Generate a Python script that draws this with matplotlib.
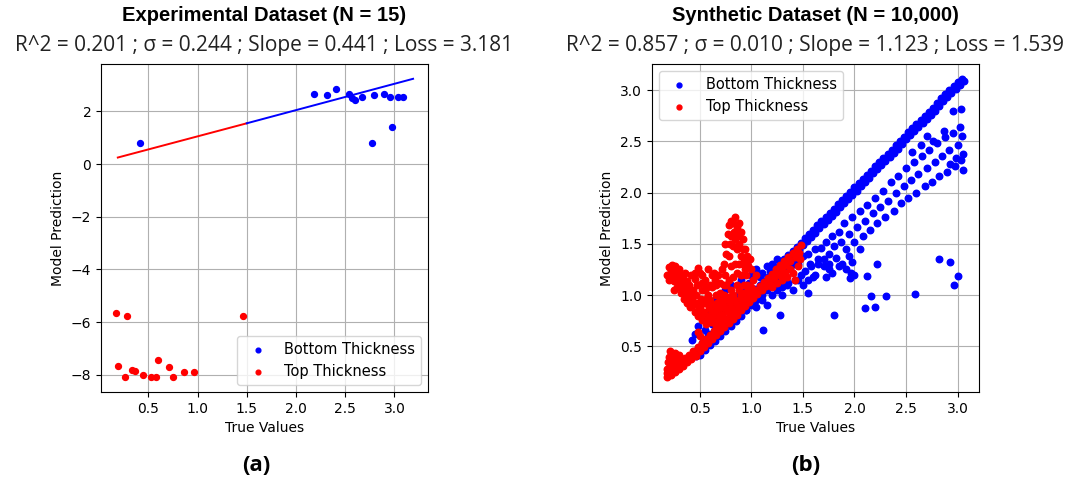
import numpy as np
import matplotlib.pyplot as plt

# ---- (a) experimental dataset ----
exp_bottom_true = [0.42, 2.18, 2.32, 2.41, 2.54, 2.57, 2.60, 2.67, 2.79, 2.77, 2.89, 2.96, 2.98, 3.04, 3.09]
exp_bottom_pred = [0.82, 2.67, 2.62, 2.85, 2.67, 2.52, 2.42, 2.56, 2.62, 0.82, 2.67, 2.56, 1.40, 2.56, 2.56]
exp_top_true = [0.17, 0.28, 1.46, 0.19, 0.26, 0.33, 0.36, 0.45, 0.53, 0.58, 0.60, 0.71, 0.75, 0.86, 0.96]
exp_top_pred = [-5.64, -5.77, -5.77, -7.67, -8.09, -7.81, -7.87, -8.00, -8.09, -8.09, -7.43, -7.72, -8.09, -7.90, -7.90]
fit_top_x = [0.19, 1.50]
fit_top_y = [0.25, 1.55]
fit_bottom_x = [1.50, 3.19]
fit_bottom_y = [1.55, 3.24]

# ---- (b) synthetic dataset, points read off the dense clouds ----
syn_bottom_true = [
    # main diagonal band
    0.46, 0.48, 0.50, 0.52, 0.54, 0.56, 0.58, 0.60, 0.62, 0.64, 0.66, 0.68, 0.70, 0.72, 0.74, 0.76,
    0.78, 0.80, 0.82, 0.84, 0.86, 0.88, 0.90, 0.92, 0.94, 0.96, 0.98, 1.00, 1.02, 1.04, 1.06, 1.08,
    1.10, 1.12, 1.14, 1.16, 1.18, 1.20, 1.22, 1.24, 1.26, 1.28, 1.30, 1.32, 1.34, 1.36, 1.38, 1.40,
    1.42, 1.44, 1.46, 1.48, 1.50, 1.52, 1.54, 1.56, 1.58, 1.60, 1.62, 1.64, 1.66, 1.68, 1.70, 1.72,
    1.74, 1.76, 1.78, 1.80, 1.82, 1.84, 1.86, 1.88, 1.90, 1.92, 1.94, 1.96, 1.98, 2.00, 2.02, 2.04,
    2.06, 2.08, 2.10, 2.12, 2.14, 2.16, 2.18, 2.20, 2.22, 2.24, 2.26, 2.28, 2.30, 2.32, 2.34, 2.36,
    2.38, 2.40, 2.42, 2.44, 2.46, 2.48, 2.50, 2.52, 2.54, 2.56, 2.58, 2.60, 2.62, 2.64, 2.66, 2.68,
    2.70, 2.72, 2.74, 2.76, 2.78, 2.80, 2.82, 2.84, 2.86, 2.88, 2.90, 2.92, 2.94, 2.96, 2.98, 3.00,
    3.02, 3.04, 3.06,
    # lower fan
    1.30, 1.33, 1.36, 1.38, 1.42, 1.45, 1.48, 1.50, 1.52, 1.55, 1.57, 1.60, 1.62, 1.65, 1.68, 1.70,
    1.72, 1.75, 1.78, 1.80, 1.82, 1.85, 1.87, 1.90, 1.92, 1.95, 1.98, 2.00, 2.02, 2.05, 2.08, 2.10,
    2.12, 2.15, 2.18, 2.20, 2.22, 2.25, 2.28, 2.30, 2.32, 2.35, 2.38, 2.40, 2.42, 2.45, 2.48, 2.50,
    2.52, 2.55, 2.58, 2.60, 2.62, 2.65, 2.68, 2.70, 2.72, 2.75, 2.78, 2.80, 2.82, 2.85, 2.88, 2.90,
    2.92, 2.95, 2.97, 3.00, 3.02, 3.03, 3.05, 3.05, 3.04, 2.98, 2.93, 2.87, 2.76, 2.64, 2.56, 1.88,
    1.95, 2.05, 1.75, 1.55, 2.95, 2.70, 3.03,
    # scatter above the red cloud
    0.45, 0.43, 0.48, 0.52, 0.55, 0.60, 0.65, 0.70, 0.75, 0.80, 0.85, 0.90, 0.95, 1.00, 1.05, 1.10,
    1.15, 1.20, 1.25, 1.05, 1.10, 1.15, 1.20, 1.25, 1.30, 1.35, 1.40, 1.45, 1.50, 1.55, 1.58, 1.62,
    1.65, 1.70, 1.72, 1.75, 1.78, 1.85, 1.92, 2.00, 1.98, 0.95, 0.85,
    # just under / inside the red band
    0.50, 0.55, 0.60, 0.65, 0.70, 0.75, 0.80, 0.85, 0.90, 0.95, 1.00, 1.05, 1.10, 1.15, 1.20, 1.25,
    1.30, 1.35, 1.40, 1.45, 0.58, 0.62, 0.68, 0.72, 0.78, 0.88, 0.98, 1.08, 1.18, 1.28,
    # outliers
    1.80, 1.11, 1.28, 1.97, 1.96, 2.12, 2.22, 2.16, 2.31, 2.10, 2.20, 2.59, 2.82, 2.93, 3.00, 2.96,
]
syn_bottom_pred = [
    0.41, 0.48, 0.46, 0.53, 0.50, 0.57, 0.54, 0.61, 0.58, 0.65, 0.62, 0.69, 0.66, 0.73, 0.70, 0.77,
    0.74, 0.81, 0.78, 0.86, 0.83, 0.90, 0.87, 0.94, 0.91, 0.98, 0.95, 1.02, 0.99, 1.06, 1.03, 1.10,
    1.07, 1.14, 1.11, 1.18, 1.16, 1.23, 1.20, 1.27, 1.24, 1.31, 1.28, 1.35, 1.32, 1.39, 1.36, 1.43,
    1.40, 1.47, 1.44, 1.51, 1.49, 1.56, 1.53, 1.60, 1.57, 1.64, 1.61, 1.68, 1.65, 1.72, 1.69, 1.76,
    1.73, 1.80, 1.77, 1.84, 1.81, 1.89, 1.86, 1.93, 1.90, 1.97, 1.94, 2.01, 1.98, 2.05, 2.02, 2.09,
    2.06, 2.13, 2.10, 2.17, 2.14, 2.21, 2.19, 2.26, 2.23, 2.30, 2.27, 2.34, 2.31, 2.38, 2.35, 2.42,
    2.39, 2.46, 2.43, 2.50, 2.47, 2.54, 2.52, 2.59, 2.56, 2.63, 2.60, 2.67, 2.64, 2.71, 2.68, 2.75,
    2.72, 2.79, 2.76, 2.83, 2.80, 2.87, 2.84, 2.92, 2.89, 2.96, 2.93, 3.00, 2.97, 3.04, 3.01, 3.08,
    3.05, 3.11, 3.09,
    1.08, 1.20, 1.12, 1.26, 1.15, 1.30, 1.20, 1.38, 1.24, 1.40, 1.30, 1.18, 1.45, 1.35, 1.46, 1.28,
    1.52, 1.40, 1.58, 1.48, 1.36, 1.62, 1.52, 1.70, 1.45, 1.60, 1.76, 1.52, 1.66, 1.82, 1.58, 1.72,
    1.88, 1.64, 1.80, 1.95, 1.70, 1.86, 2.02, 1.76, 1.92, 2.10, 1.82, 2.00, 2.16, 1.90, 2.06, 2.24,
    1.95, 2.12, 2.30, 2.00, 2.18, 2.36, 2.06, 2.24, 2.42, 2.10, 2.30, 2.48, 2.16, 2.36, 2.54, 2.20,
    2.42, 2.58, 2.26, 2.46, 2.64, 2.32, 2.22, 2.38, 2.55, 2.34, 2.28, 2.60, 2.50, 2.46, 2.40, 1.30,
    1.38, 1.45, 1.25, 1.15, 2.80, 2.55, 2.82,
    0.62, 0.56, 0.70, 0.78, 0.66, 0.85, 0.95, 1.00, 1.05, 1.10, 0.98, 1.15, 1.05, 1.20, 1.25, 1.22,
    1.28, 1.30, 1.35, 0.88, 0.95, 0.90, 1.00, 1.05, 1.00, 1.10, 1.05, 1.15, 1.10, 1.02, 1.28, 1.20,
    1.30, 1.35, 1.18, 1.30, 1.22, 1.28, 1.25, 1.20, 1.32, 0.85, 0.80,
    0.42, 0.46, 0.51, 0.55, 0.60, 0.65, 0.70, 0.75, 0.80, 0.85, 0.90, 0.95, 1.00, 1.05, 1.10, 1.15,
    1.20, 1.25, 1.30, 1.35, 0.62, 0.72, 0.80, 0.86, 0.92, 1.02, 1.12, 1.18, 1.24, 1.32,
    0.81, 0.66, 0.81, 1.22, 1.17, 1.19, 1.30, 0.99, 0.99, 0.87, 0.88, 1.01, 1.35, 1.32, 1.19, 1.10,
]

syn_top_true = [
    # main band
    0.18, 0.20, 0.22, 0.24, 0.26, 0.28, 0.30, 0.32, 0.34, 0.36, 0.38, 0.40, 0.42, 0.44, 0.46, 0.48,
    0.50, 0.52, 0.54, 0.56, 0.58, 0.60, 0.62, 0.64, 0.66, 0.68, 0.70, 0.72, 0.74, 0.76, 0.78, 0.80,
    0.82, 0.84, 0.86, 0.88, 0.90, 0.92, 0.94, 0.96, 0.98, 1.00, 1.02, 1.04, 1.06, 1.08, 1.10, 1.12,
    1.14, 1.16, 1.18, 1.20, 1.22, 1.24, 1.26, 1.28, 1.30, 1.32, 1.34, 1.36, 1.38, 1.40, 1.42, 1.44,
    1.46, 1.48,
    # wedge under the upper end
    1.20, 1.25, 1.30, 1.35, 1.40, 1.45, 1.42, 1.47, 1.38, 1.33, 1.28, 1.45,
    # blob at the lower left
    0.18, 0.19, 0.20, 0.22, 0.24, 0.26, 0.28, 0.18, 0.21, 0.30, 0.33,
    # left arm of the V
    0.18, 0.20, 0.23, 0.22, 0.25, 0.27, 0.28, 0.30, 0.32, 0.33, 0.35, 0.36, 0.38, 0.40, 0.41, 0.43,
    0.45, 0.46, 0.48, 0.50, 0.52, 0.54, 0.56, 0.58,
    # cloud inside the V
    0.34, 0.38, 0.42, 0.45, 0.48, 0.50, 0.47, 0.52, 0.55, 0.58, 0.60, 0.62, 0.64, 0.66, 0.68, 0.70,
    0.72, 0.74, 0.56, 0.60, 0.62, 0.65, 0.68, 0.53, 0.44, 0.40, 0.30, 0.76, 0.78, 0.80, 0.82, 0.85,
    0.88, 0.90, 0.93, 0.96, 0.98, 1.00, 0.62, 0.65, 0.58, 0.70, 0.72, 0.68, 1.02, 1.05, 0.48, 0.50,
    0.20, 0.22, 0.24, 0.26, 0.25, 0.28, 0.30, 0.32, 0.34, 0.36, 0.37, 0.39, 0.40, 0.42, 0.44, 0.46,
    0.49, 0.51, 0.53, 0.55, 0.57, 0.59, 0.61, 0.63, 0.66, 0.67, 0.69, 0.71, 0.73, 0.75, 0.77, 0.79,
    0.81, 0.83, 0.87, 0.91, 0.95, 0.97, 0.45, 0.52, 0.55, 0.60, 0.64, 0.66, 0.74, 0.70, 0.52, 0.57,
    # spike
    0.74, 0.76, 0.75, 0.74, 0.76, 0.75, 0.77, 0.78, 0.80, 0.82, 0.84, 0.86, 0.88, 0.90, 0.92, 0.94,
    0.96, 0.97, 0.95, 0.93, 0.90, 0.80, 0.82, 0.84, 0.86, 0.88, 0.90, 0.92, 0.78, 0.80, 0.82, 0.84,
    0.86, 0.88, 0.90, 0.79, 0.83, 0.87, 0.94, 0.78, 0.80, 0.86, 0.92, 0.77, 0.99, 1.00, 0.96, 0.93,
]
syn_top_pred = [
    0.20, 0.27, 0.22, 0.30, 0.25, 0.33, 0.28, 0.36, 0.31, 0.39, 0.35, 0.42, 0.38, 0.45, 0.41, 0.49,
    0.45, 0.53, 0.49, 0.57, 0.53, 0.61, 0.57, 0.65, 0.61, 0.69, 0.65, 0.73, 0.69, 0.77, 0.73, 0.81,
    0.77, 0.85, 0.81, 0.89, 0.85, 0.93, 0.89, 0.97, 0.93, 1.01, 0.97, 1.05, 1.01, 1.09, 1.05, 1.13,
    1.09, 1.17, 1.13, 1.21, 1.17, 1.25, 1.21, 1.29, 1.25, 1.33, 1.29, 1.37, 1.33, 1.41, 1.37, 1.45,
    1.41, 1.49,
    1.08, 1.12, 1.15, 1.18, 1.22, 1.28, 1.15, 1.35, 1.25, 1.22, 1.20, 1.40,
    0.28, 0.35, 0.40, 0.32, 0.38, 0.44, 0.40, 0.24, 0.45, 0.42, 0.38,
    1.20, 1.27, 1.29, 1.18, 1.14, 1.22, 1.08, 1.15, 1.02, 1.10, 0.96, 1.05, 0.92, 1.00, 0.88, 0.95,
    0.84, 0.92, 0.80, 0.88, 0.76, 0.84, 0.72, 0.80,
    1.19, 1.14, 1.20, 1.16, 1.26, 1.22, 1.10, 1.12, 1.05, 1.00, 0.95, 1.08, 0.90, 1.00, 0.86, 0.95,
    0.82, 0.90, 0.96, 0.86, 0.78, 0.82, 0.76, 0.93, 1.05, 1.10, 1.25, 0.86, 0.95, 0.88, 1.00, 0.92,
    1.05, 0.96, 1.02, 1.10, 1.00, 1.08, 1.20, 1.15, 1.25, 1.12, 1.25, 1.20, 1.15, 1.20, 0.64, 0.60,
    1.15, 1.24, 1.20, 1.28, 1.05, 1.18, 1.08, 1.20, 1.12, 1.22, 0.98, 1.08, 0.94, 1.04, 0.90, 1.00,
    0.86, 0.96, 0.82, 0.92, 0.78, 0.88, 0.74, 0.84, 0.70, 0.92, 0.80, 0.88, 0.78, 0.96, 0.84, 0.92,
    0.82, 0.96, 0.88, 0.92, 0.96, 1.05, 1.22, 1.20, 1.15, 1.10, 1.22, 1.10, 1.10, 1.02, 1.05, 1.08,
    1.00, 1.10, 1.20, 1.30, 1.40, 1.50, 1.60, 1.68, 1.72, 1.70, 1.76, 1.66, 1.70, 1.62, 1.55, 1.45,
    1.38, 1.28, 1.20, 1.10, 1.00, 1.58, 1.48, 1.55, 1.45, 1.50, 1.38, 1.30, 1.38, 1.28, 1.18, 1.30,
    1.22, 1.30, 1.20, 1.50, 1.62, 1.58, 1.25, 1.15, 1.05, 1.10, 1.45, 0.98, 1.35, 1.25, 1.30, 1.35,
]

titles = ['Experimental Dataset (N = 15)', 'Synthetic Dataset (N = 10,000)']
stats = ['R^2 = 0.201 ; σ = 0.244 ; Slope = 0.441 ; Loss = 3.181',
         'R^2 = 0.857 ; σ = 0.010 ; Slope = 1.123 ; Loss = 1.539']
panel_tags = ['(a)', '(b)']

fig = plt.figure(figsize=(10.72, 4.84), dpi=100)
ax1 = fig.add_axes([0.0942, 0.190, 0.305, 0.678])
ax2 = fig.add_axes([0.608, 0.190, 0.305, 0.678])

# left panel
ax1.plot(fit_top_x, fit_top_y, color='red', lw=1.4)
ax1.plot(fit_bottom_x, fit_bottom_y, color='blue', lw=1.4)
ax1.scatter(exp_bottom_true, exp_bottom_pred, s=18, color='blue', label='Bottom Thickness')
ax1.scatter(exp_top_true, exp_top_pred, s=18, color='red', label='Top Thickness')
ax1.legend(loc='lower right', fontsize=10.5, markerscale=0.8)

# right panel
ax2.scatter(syn_bottom_true, syn_bottom_pred, s=22, color='blue', label='Bottom Thickness')
ax2.scatter(syn_top_true, syn_top_pred, s=22, color='red', label='Top Thickness')
ax2.legend(loc='upper left', fontsize=10.5, markerscale=0.75)

for ax, title, stat in zip([ax1, ax2], titles, stats):
    ax.grid(True, color='#b0b0b0', lw=0.8)
    ax.set_axisbelow(True)
    ax.set_xlabel('True Values', fontsize=10)
    ax.set_ylabel('Model Prediction', fontsize=10)
    ax.tick_params(labelsize=10)
    ax.set_xticks([0.5, 1.0, 1.5, 2.0, 2.5, 3.0])
    cx = ax.get_position().x0 + ax.get_position().width / 2
    fig.text(cx, 0.969, title, ha='center', va='center', fontsize=14.5,
             fontweight='bold', family='Liberation Sans')
    fig.text(cx, 0.905, stat, ha='center', va='center', fontsize=15, family='Open Sans',
             color='#222222')

fig.text(0.239, 0.039, panel_tags[0], ha='center', va='center', fontsize=16,
         fontweight='bold', family='Open Sans')
fig.text(0.752, 0.039, panel_tags[1], ha='center', va='center', fontsize=16,
         fontweight='bold', family='Open Sans')

fig.savefig('out.png', dpi=100)
